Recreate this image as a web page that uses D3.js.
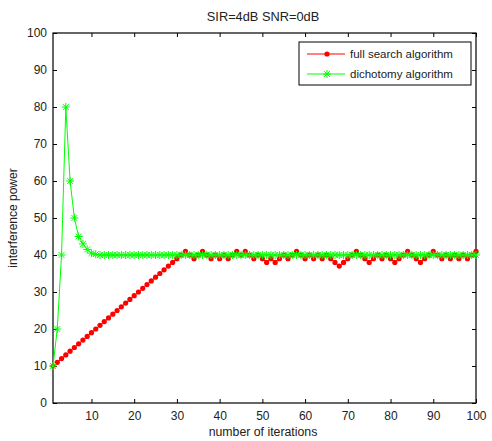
<!DOCTYPE html>
<html lang="en">
<head>
<meta charset="UTF-8">
<title>SIR=4dB SNR=0dB</title>
<script src="https://d3js.org/d3.v7.min.js"></script>
<style>
  body { margin: 0; background: #fff; }
  text { font-family: "Liberation Sans", Arial, sans-serif; fill: #222; }
</style>
</head>
<body>
<div id="chart"></div>
<script>
// iterations 1..100
const iterations = d3.range(1, 101);

const fullSearch = [
  10, 11, 12, 13, 14, 15, 16, 17, 18, 19,
  20, 21, 22, 23, 24, 25, 26, 27, 28, 29,
  30, 31, 32, 33, 34, 35, 36, 37, 38, 39,
  40, 41, 40, 39, 40, 41, 40, 39, 40, 39,
  40, 39, 40, 41, 40, 41, 40, 39, 40, 39,
  38, 39, 38, 39, 40, 39, 40, 41, 40, 39,
  40, 39, 40, 39, 40, 39, 38, 37, 38, 39,
  40, 41, 40, 39, 38, 39, 40, 39, 40, 39,
  38, 39, 40, 41, 40, 39, 38, 39, 40, 41,
  40, 39, 40, 39, 40, 39, 40, 39, 40, 41
];

const dichotomy = [
  10, 20, 40, 80, 60, 50, 45, 43, 41.5, 40.5,
  40.2, 40, 40, 40, 40, 40, 40, 40, 40, 40,
  40, 40, 40, 40, 40, 40, 40, 40, 40, 40,
  40, 40, 40, 40, 40, 40, 40, 40, 40, 40,
  40, 40, 40, 40, 40, 40, 40, 40, 40, 40,
  40, 40, 40, 40, 40, 40, 40, 40, 40, 40,
  40, 40, 40, 40, 40, 40, 40, 40, 40, 40,
  40, 40, 40, 40, 40, 40, 40, 40, 40, 40,
  40, 40, 40, 40, 40, 40, 40, 40, 40, 40,
  40, 40, 40, 40, 40, 40, 40, 40, 40, 40
];

const xTicks = [10, 20, 30, 40, 50, 60, 70, 80, 90, 100];
const yTicks = [0, 10, 20, 30, 40, 50, 60, 70, 80, 90, 100];
const seriesNames = ["full search algorithm", "dichotomy algorithm"];

const width = 492, height = 441;
const margin = { left: 53, right: 16, top: 33, bottom: 38 };
const x0 = margin.left, x1 = width - margin.right;
const y0 = height - margin.bottom, y1 = margin.top;

const svg = d3.select('#chart').append('svg')
  .attr('width', width)
  .attr('height', height);

const x = d3.scaleLinear().domain([1, 100]).range([x0, x1]);
const y = d3.scaleLinear().domain([0, 100]).range([y0, y1]);

// axes, ticks pointing inward
svg.append('g')
  .attr('transform', `translate(0,${y0})`)
  .call(d3.axisBottom(x).tickValues(xTicks).tickSize(-4).tickPadding(8))
  .call(g => g.select('.domain').remove());
svg.append('g')
  .attr('transform', `translate(0,${y1})`)
  .call(d3.axisTop(x).tickValues(xTicks).tickSize(-4).tickFormat(''))
  .call(g => g.select('.domain').remove());
svg.append('g')
  .attr('transform', `translate(${x0},0)`)
  .call(d3.axisLeft(y).tickValues(yTicks).tickSize(-4).tickPadding(6))
  .call(g => g.select('.domain').remove());
svg.append('g')
  .attr('transform', `translate(${x1},0)`)
  .call(d3.axisRight(y).tickValues(yTicks).tickSize(-4).tickFormat(''))
  .call(g => g.select('.domain').remove());

svg.selectAll('.tick text').style('font-size', '12px').attr('fill', '#222');
svg.selectAll('.tick line').attr('stroke', '#000');

svg.append('rect')
  .attr('x', x0).attr('y', y1)
  .attr('width', x1 - x0).attr('height', y0 - y1)
  .attr('fill', 'none').attr('stroke', '#000').attr('stroke-width', 1.2);

// lines
const line = d3.line().x((d, i) => x(iterations[i])).y(d => y(d));

svg.append('path').datum(fullSearch)
  .attr('d', line).attr('fill', 'none').attr('stroke', '#ff0000').attr('stroke-width', 1);
svg.append('g').selectAll('circle').data(fullSearch).join('circle')
  .attr('cx', (d, i) => x(iterations[i])).attr('cy', d => y(d))
  .attr('r', 2.6).attr('fill', '#ff0000');

function star(g, cx, cy, r) {
  const a = r * 0.72;
  g.append('path')
    .attr('d', `M${cx - r},${cy}H${cx + r}M${cx},${cy - r}V${cy + r}` +
      `M${cx - a},${cy - a}L${cx + a},${cy + a}M${cx - a},${cy + a}L${cx + a},${cy - a}`)
    .attr('stroke', '#00ff00').attr('stroke-width', 1).attr('fill', 'none');
}

svg.append('path').datum(dichotomy)
  .attr('d', line).attr('fill', 'none').attr('stroke', '#00ff00').attr('stroke-width', 1);
const stars = svg.append('g');
dichotomy.forEach((d, i) => star(stars, x(iterations[i]), y(d), 4));

// legend
const lg = svg.append('g');
lg.append('rect')
  .attr('x', 299).attr('y', 42).attr('width', 172).attr('height', 43)
  .attr('fill', '#fff').attr('stroke', '#000').attr('stroke-width', 1);
[54, 74].forEach((ly, k) => {
  const col = k === 0 ? '#ff0000' : '#00ff00';
  lg.append('line').attr('x1', 307).attr('x2', 345).attr('y1', ly).attr('y2', ly)
    .attr('stroke', col).attr('stroke-width', 1);
  if (k === 0) lg.append('circle').attr('cx', 327).attr('cy', ly).attr('r', 2.6).attr('fill', col);
  else star(lg, 327, ly, 4);
  lg.append('text').attr('x', 350).attr('y', ly + 4)
    .style('font-size', '11.5px').text(seriesNames[k]);
});

// titles
svg.append('text').attr('x', 263).attr('y', 21)
  .attr('text-anchor', 'middle').style('font-size', '12.8px').text('SIR=4dB SNR=0dB');
svg.append('text').attr('x', 263).attr('y', 436)
  .attr('text-anchor', 'middle').style('font-size', '12.3px').text('number of iterations');
svg.append('text')
  .attr('transform', `translate(17,${(y0 + y1) / 2}) rotate(-90)`)
  .attr('text-anchor', 'middle').style('font-size', '12px').text('interference power');
</script>
</body>
</html>
